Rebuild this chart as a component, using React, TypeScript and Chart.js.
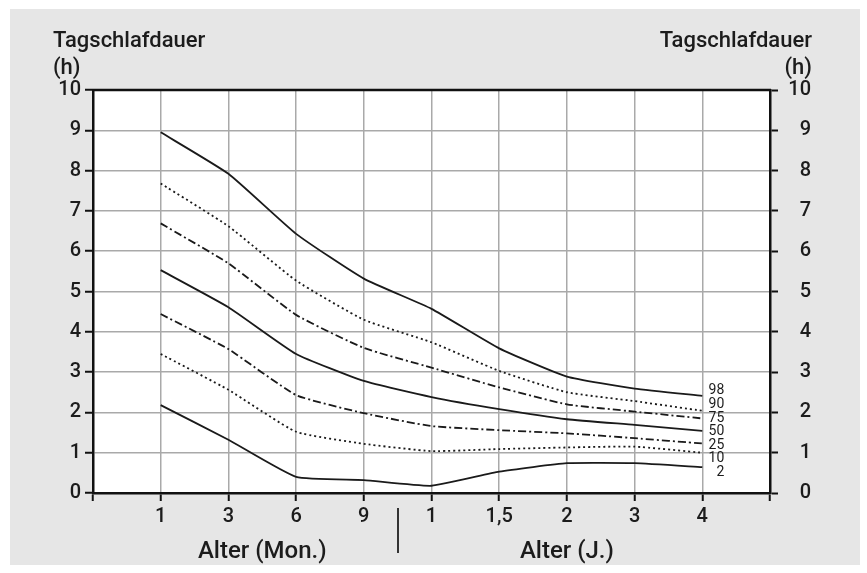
import React, { useEffect, useRef } from 'react';
import { Chart, registerables } from 'chart.js';

Chart.register(...registerables);

// ---- data ----
const categories = ['1', '3', '6', '9', '1', '1,5', '2', '3', '4'];
const percentileNames = ['98', '90', '75', '50', '25', '10', '2'];
const p98 = [8.95, 7.92, 6.43, 5.32, 4.57, 3.59, 2.89, 2.59, 2.41];
const p90 = [7.68, 6.62, 5.27, 4.3, 3.74, 3.03, 2.5, 2.28, 2.04];
const p75 = [6.69, 5.7, 4.42, 3.6, 3.11, 2.62, 2.2, 2.02, 1.85];
const p50 = [5.53, 4.61, 3.45, 2.78, 2.38, 2.08, 1.83, 1.69, 1.54];
const p25 = [4.44, 3.57, 2.43, 1.98, 1.66, 1.56, 1.48, 1.36, 1.23];
const p10 = [3.45, 2.56, 1.52, 1.22, 1.04, 1.09, 1.13, 1.15, 1.0];
const p2 = [2.18, 1.32, 0.4, 0.32, 0.18, 0.53, 0.74, 0.74, 0.64];
const yMin = 0;
const yMax = 10;
const yTitle = 'Tagschlafdauer';
const yUnit = '(h)';
const xTitleMonths = 'Alter (Mon.)';
const xTitleYears = 'Alter (J.)';

const FONT = "Roboto, 'Liberation Sans', Arial, sans-serif";
const INK = '#1c1c1c';
const SOLID: number[] = [];
const DOTTED = [2, 3];
const DASHDOT = [8, 3, 2, 3];

const seriesList = [
  { name: percentileNames[0], values: p98, dash: SOLID },
  { name: percentileNames[1], values: p90, dash: DOTTED },
  { name: percentileNames[2], values: p75, dash: DASHDOT },
  { name: percentileNames[3], values: p50, dash: SOLID },
  { name: percentileNames[4], values: p25, dash: DASHDOT },
  { name: percentileNames[5], values: p10, dash: DOTTED },
  { name: percentileNames[6], values: p2, dash: SOLID },
];

const decorPlugin = {
  id: 'decor',
  beforeDraw(chart: any) {
    const { ctx, chartArea } = chart;
    ctx.save();
    ctx.fillStyle = '#ffffff';
    ctx.fillRect(0, 0, chart.width, chart.height);
    ctx.fillStyle = '#e6e6e6';
    ctx.fillRect(10, 9, 850, 556);
    ctx.fillStyle = '#ffffff';
    ctx.fillRect(chartArea.left, chartArea.top, chartArea.right - chartArea.left, chartArea.bottom - chartArea.top);
    ctx.restore();
  },
  afterDraw(chart: any) {
    const { ctx, chartArea } = chart;
    const xs = chart.scales.x;
    const ys = chart.scales.y;
    ctx.save();
    // top frame line
    ctx.strokeStyle = '#111';
    ctx.lineWidth = 2.5;
    ctx.beginPath();
    ctx.moveTo(chartArea.left - 1, chartArea.top);
    ctx.lineTo(chartArea.right + 1, chartArea.top);
    ctx.stroke();

    // y titles
    ctx.fillStyle = INK;
    ctx.font = `500 22px ${FONT}`;
    ctx.textBaseline = 'alphabetic';
    ctx.textAlign = 'left';
    ctx.fillText(yTitle, 53, 47);
    ctx.fillText(yUnit, 53, 74);
    ctx.textAlign = 'right';
    ctx.fillText(yTitle, 812, 47);
    ctx.fillText(yUnit, 812, 74);

    // x titles
    ctx.font = `500 24px ${FONT}`;
    ctx.textAlign = 'center';
    ctx.fillText(xTitleMonths, xs.getPixelForValue(2.5), 558);
    ctx.fillText(xTitleYears, xs.getPixelForValue(7), 558);

    // separator
    ctx.strokeStyle = '#333';
    ctx.lineWidth = 2;
    const sx = Math.round(xs.getPixelForValue(4.5));
    ctx.beginPath();
    ctx.moveTo(sx, 508);
    ctx.lineTo(sx, 553);
    ctx.stroke();

    // percentile labels
    ctx.font = `14px ${FONT}`;
    ctx.textAlign = 'right';
    ctx.textBaseline = 'middle';
    const lastX = xs.getPixelForValue(categories.length) + 22;
    const y0 = ys.getPixelForValue(p98[p98.length - 1]) - 5;
    seriesList.forEach((s, i) => {
      ctx.fillText(s.name, lastX, y0 + i * 13.6);
    });
    ctx.restore();
  },
};

export default function App() {
  const ref = useRef<HTMLCanvasElement>(null);
  useEffect(() => {
    if (!ref.current) return;
    const chart = new Chart(ref.current, {
      type: 'line',
      data: {
        datasets: seriesList.map((s) => ({
          label: s.name,
          data: s.values.map((v, i) => ({ x: i + 1, y: v })),
          borderColor: '#1a1a1a',
          borderWidth: 1.8,
          borderDash: s.dash,
          pointRadius: 0,
          tension: 0.15,
          fill: false,
        })),
      },
      options: {
        animation: false,
        responsive: false,
        layout: { padding: { top: 90, right: 56, left: 0, bottom: 0 } },
        plugins: { legend: { display: false }, tooltip: { enabled: false } },
        scales: {
          x: {
            type: 'linear',
            min: 0,
            max: categories.length + 1,
            afterFit: (s: any) => { s.height = 80; },
            ticks: {
              stepSize: 1,
              autoSkip: false,
              padding: 4,
              color: INK,
              font: { family: FONT, size: 20, weight: '500' },
              callback: (v: any) => {
                const i = Math.round(Number(v)) - 1;
                return i >= 0 && i < categories.length ? categories[i] : '';
              },
            },
            grid: { color: '#a9a9a9', lineWidth: 1.5, tickLength: 8, tickColor: '#111', tickWidth: 2 },
            border: { display: true, color: '#111', width: 2.5 },
          },
          y: {
            position: 'left',
            min: yMin,
            max: yMax,
            afterFit: (s: any) => { s.width = 93; },
            ticks: {
              stepSize: 1,
              padding: 4,
              color: INK,
              font: { family: FONT, size: 20, weight: '500' },
            },
            grid: { color: '#a9a9a9', lineWidth: 1.5, tickLength: 8, tickColor: '#111', tickWidth: 2 },
            border: { display: true, color: '#111', width: 2.5 },
          },
          y2: {
            position: 'right',
            min: yMin,
            max: yMax,
            afterFit: (s: any) => { s.width = 41; },
            ticks: {
              stepSize: 1,
              padding: 4,
              crossAlign: 'far',
              color: INK,
              font: { family: FONT, size: 20, weight: '500' },
            },
            grid: { drawOnChartArea: false, tickLength: 8, tickColor: '#111', tickWidth: 2 },
            border: { display: true, color: '#111', width: 2.5 },
          },
        },
      },
      plugins: [decorPlugin],
    } as any);
    return () => chart.destroy();
  }, []);
  return (
    <div style={{ position: 'absolute', left: 0, top: 0, width: 867, height: 573 }}>
      <canvas ref={ref} width={867} height={573} style={{ display: 'block' }} />
    </div>
  );
}
